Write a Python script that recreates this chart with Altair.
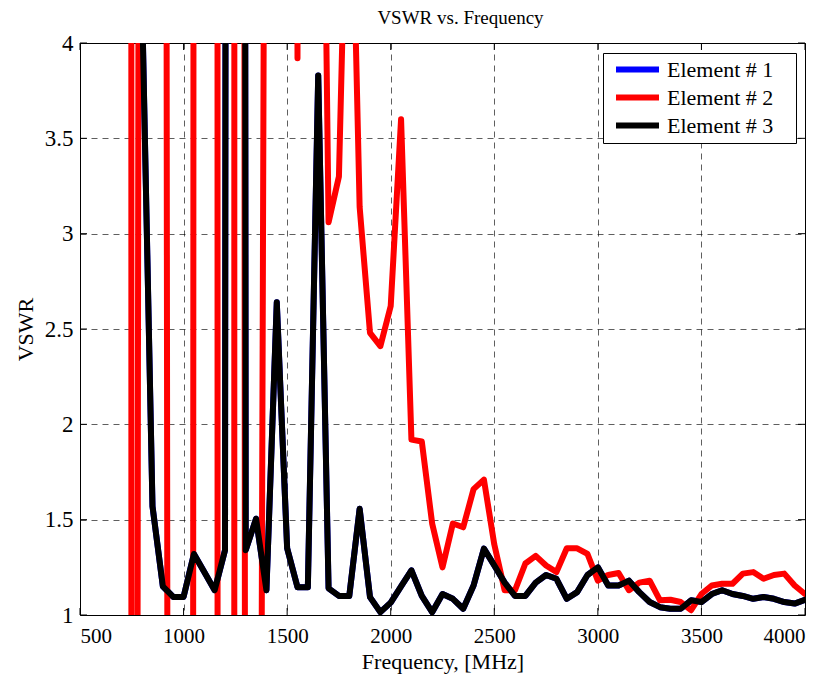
import altair as alt
import pandas as pd

# Frequency sweep, 50 MHz steps
freq_mhz = list(range(500, 4001, 50))

# Element # 3 (black); Element # 1 coincides with it and is drawn underneath
vswr_element_3 = [
    30, 30, 30, 30, 30, 30, 4.2, 1.57, 1.15, 1.095,          # 500 - 950
    1.095, 1.32, 1.225, 1.13, 1.34, 60, 1.34, 1.505, 1.13, 2.64,  # 1000 - 1450
    1.35, 1.146, 1.146, 3.83, 1.14, 1.10, 1.10, 1.557, 1.094, 1.015,  # 1500 - 1950
    1.065, 1.15, 1.234, 1.10, 1.015, 1.11, 1.085, 1.033, 1.155, 1.348,  # 2000 - 2450
    1.26, 1.17, 1.10, 1.10, 1.17, 1.21, 1.19, 1.085, 1.12, 1.21,  # 2500 - 2950
    1.25, 1.155, 1.155, 1.18, 1.12, 1.068, 1.041, 1.033, 1.033, 1.077,  # 3000 - 3450
    1.068, 1.11, 1.13, 1.11, 1.10, 1.085, 1.094, 1.085, 1.068, 1.06,  # 3500 - 3950
    1.08,                                                     # 4000
]
vswr_element_1 = list(vswr_element_3)

# Element # 2 (red): wild excursions below 1600 MHz run far off the 1-4 range
vswr_element_2 = [
    60, 60, 60, 60, 540, -20, 17.5, 30, 20, -24,              # 500 - 950
    -100, 9, 40, 239, -605, 70, -5, -8, 8.4, 20,              # 1000 - 1450
    40, 3.92, 40, 7.5, 3.06, 3.30, 5.5, 3.14, 2.48, 2.41,     # 1500 - 1950
    2.62, 3.60, 1.92, 1.91, 1.48, 1.25, 1.48, 1.46, 1.66, 1.71,  # 2000 - 2450
    1.37, 1.13, 1.13, 1.27, 1.31, 1.26, 1.225, 1.35, 1.35, 1.32,  # 2500 - 2950
    1.18, 1.21, 1.22, 1.13, 1.17, 1.18, 1.077, 1.08, 1.068, 1.025,  # 3000 - 3450
    1.11, 1.155, 1.164, 1.164, 1.217, 1.225, 1.19, 1.21, 1.217, 1.155,  # 3500 - 3950
    1.11,                                                     # 4000
]

element_names = ["Element # 1", "Element # 2", "Element # 3"]
element_colors = ["#0000ff", "#ff0000", "#000000"]

x_ticks = [500, 1000, 1500, 2000, 2500, 3000, 3500, 4000]
y_ticks = [1, 1.5, 2, 2.5, 3, 3.5, 4]

rows = []
for name, values in zip(element_names, [vswr_element_1, vswr_element_2, vswr_element_3]):
    for f, v in zip(freq_mhz, values):
        rows.append({"freq": f, "vswr": v, "element": name})
df = pd.DataFrame(rows)

W, H = 725, 572
TICK = 7

x_scale = alt.Scale(domain=[500, 4000], nice=False, zero=False)
y_scale = alt.Scale(domain=[1, 4], nice=False, zero=False)
color_scale = alt.Scale(domain=element_names, range=element_colors)

x_enc = alt.X("freq:Q", scale=x_scale,
              axis=alt.Axis(values=x_ticks, format="d", title="Frequency, [MHz]"))
y_enc = alt.Y("vswr:Q", scale=y_scale,
              axis=alt.Axis(values=y_ticks, format="~g", title="VSWR"))

# a trailing blank (U+2800, not trimmed) widens the legend box on the right
legend = alt.Legend(title=None, labelExpr="datum.label + '\u2800'")


def series(name):
    return (
        alt.Chart(df)
        .transform_filter(alt.datum.element == name)
        .mark_line(clip=True, strokeWidth=6, strokeJoin="round", strokeCap="round")
        .encode(
            x=x_enc,
            y=y_enc,
            color=alt.Color("element:N", scale=color_scale, legend=legend),
        )
    )


# Inward tick marks on all four sides of the frame
tx = pd.DataFrame({"freq": x_ticks})
ty = pd.DataFrame({"vswr": y_ticks})

tick_bottom = alt.Chart(tx).mark_rule(color="black", strokeWidth=1).encode(
    x=x_enc, y=alt.value(H), y2=alt.value(H - TICK))
tick_top = alt.Chart(tx).mark_rule(color="black", strokeWidth=1).encode(
    x=x_enc, y=alt.value(0), y2=alt.value(TICK))
tick_left = alt.Chart(ty).mark_rule(color="black", strokeWidth=1).encode(
    y=y_enc, x=alt.value(0), x2=alt.value(TICK))
tick_right = alt.Chart(ty).mark_rule(color="black", strokeWidth=1).encode(
    y=y_enc, x=alt.value(W), x2=alt.value(W - TICK))

chart = (
    alt.layer(
        series("Element # 1"), series("Element # 2"), series("Element # 3"),
        tick_bottom, tick_top, tick_left, tick_right,
    )
    .properties(
        width=W, height=H,
        autosize=alt.AutoSizeParams(type="none"),
        padding={"left": 80, "top": 43, "right": 25, "bottom": 66},
        background="white",
        title=alt.TitleParams(
            "VSWR vs. Frequency", font="Liberation Serif", fontSize=19,
            fontWeight="normal", color="black", anchor="middle", offset=4, dx=18,
        ),
    )
    .configure_view(stroke="black", strokeWidth=1)
    .configure_axis(
        domain=False, ticks=False, grid=True,
        gridColor="#000000", gridDash=[6, 5], gridWidth=0.7, gridOpacity=0.9,
        labelFont="Liberation Serif", labelColor="black",
        titleFont="Liberation Serif", titleFontSize=22, titleFontWeight="normal",
        titleColor="black",
    )
    .configure_axisX(labelFontSize=21, labelPadding=10, titlePadding=5)
    .configure_axisY(labelFontSize=23, labelPadding=7, titlePadding=7)
    .configure_legend(
        orient="none", legendX=523, legendY=10,
        strokeColor="black", fillColor="white", padding=6, cornerRadius=0,
        symbolType="stroke", symbolStrokeWidth=6, symbolSize=1849,
        clipHeight=21, rowPadding=5, symbolOffset=4,
        labelFont="Liberation Serif", labelFontSize=22, labelColor="black",
        labelOffset=5,
    )
)

chart.save("out.html", embed_options={"renderer": "svg", "actions": False})
